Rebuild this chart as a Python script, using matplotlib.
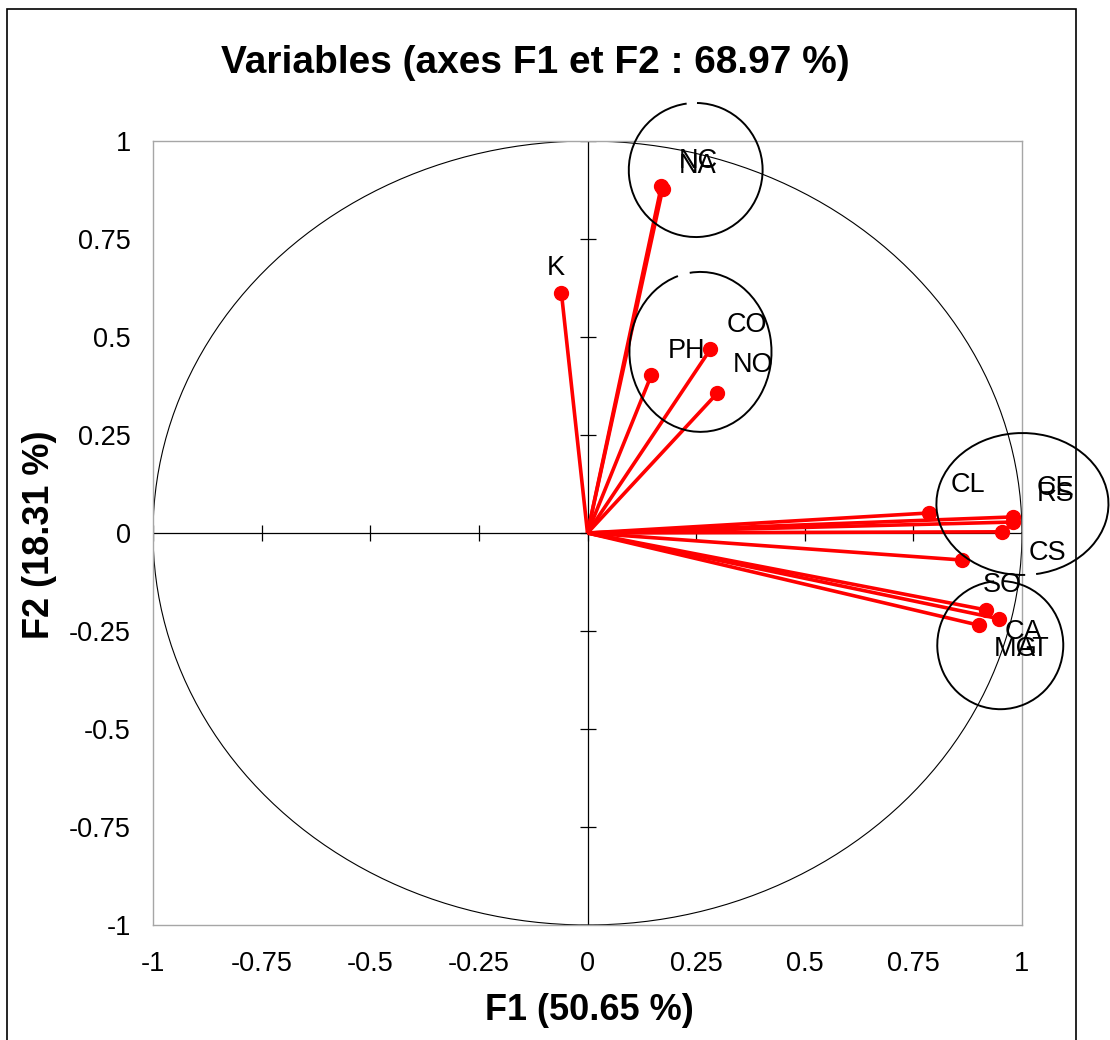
"""
Correlation circle (PCA variables plot, axes F1 and F2).
"""
import numpy as np
import matplotlib
matplotlib.use('Agg')
import matplotlib.pyplot as plt
from matplotlib.patches import Arc, Rectangle

plt.rcParams['font.family'] = ['Liberation Sans', 'DejaVu Sans']

# variables and their coordinates on F1 / F2
variables = ["NC", "NA", "K", "CO", "PH", "NO", "CL", "CE", "RS", "CS",
             "SO", "MG", "CA", "AT"]
f1 = [0.170, 0.173, -0.060, 0.283, 0.147, 0.299, 0.785, 0.980, 0.980, 0.955,
      0.863, 0.916, 0.948, 0.900]
f2 = [0.885, 0.878, 0.612, 0.469, 0.403, 0.357, 0.051, 0.041, 0.028, 0.003,
      -0.069, -0.196, -0.219, -0.235]

# where the labels were placed on the chart
label_x = [0.255, 0.253, -0.074, 0.366, 0.228, 0.382, 0.875, 1.077, 1.077, 1.059,
           0.955, 0.985, 1.003, 1.025]
label_y = [0.949, 0.936, 0.676, 0.531, 0.464, 0.429, 0.122, 0.115, 0.099, -0.051,
           -0.133, -0.296, -0.253, -0.296]

# hand-drawn groupings: centre x, centre y, width, height, gap start angle
groups_cx = [0.249, 0.260, 1.001, 0.950]
groups_cy = [0.926, 0.462, 0.074, -0.286]
groups_w = [0.308, 0.327, 0.396, 0.290]
groups_h = [0.342, 0.408, 0.362, 0.327]
groups_gap = [97, 105, 280, 95]

ticks = [-1, -0.75, -0.5, -0.25, 0, 0.25, 0.5, 0.75, 1]
tick_labels = ["-1", "-0.75", "-0.5", "-0.25", "0", "0.25", "0.5", "0.75", "1"]

title = "Variables (axes F1 et F2 : 68.97 %)"
xlabel = "F1 (50.65 %)"
ylabel = "F2 (18.31 %)"

fig = plt.figure(figsize=(11.1, 10.4), dpi=100)
ax = fig.add_axes([153 / 1110, 115 / 1040, 869 / 1110, 784 / 1040])

# unit circle
theta = np.linspace(0, 2 * np.pi, 400)
ax.plot(np.cos(theta), np.sin(theta), color='black', lw=0.8, zorder=1)

# axes through the origin with crossing ticks
ax.axhline(0, color='black', lw=0.9, zorder=1)
ax.axvline(0, color='black', lw=0.9, zorder=1)
ax.plot(ticks, [0] * len(ticks), ls='none', marker='|', ms=11, mew=0.9,
        color='black', zorder=1)
ax.plot([0] * len(ticks), ticks, ls='none', marker='_', ms=11, mew=0.9,
        color='black', zorder=1)

# variable vectors
for x, y in zip(f1, f2):
    ax.plot([0, x], [0, y], color='#ff0000', lw=2.6, solid_capstyle='butt', zorder=3)
ax.plot(f1, f2, ls='none', marker='o', ms=10, color='#ff0000', zorder=4)

for name, x, y in zip(variables, label_x, label_y):
    ax.text(x, y, name, fontsize=19.5, ha='center', va='center', color='black',
            zorder=5, clip_on=False)

# group ellipses
for cx, cy, w, h, g in zip(groups_cx, groups_cy, groups_w, groups_h, groups_gap):
    arc = Arc((cx, cy), w, h, theta1=g, theta2=g + 352, color='black', lw=1.4,
              zorder=6, clip_on=False)
    ax.add_patch(arc)

ax.set_xlim(-1, 1)
ax.set_ylim(-1, 1)
ax.set_xticks(ticks)
ax.set_xticklabels(tick_labels)
ax.set_yticks(ticks)
ax.set_yticklabels(tick_labels)
ax.tick_params(length=0, labelsize=19.5, pad=16)
ax.tick_params(axis='x', pad=19)
for sp in ax.spines.values():
    sp.set_color('#a6a6a6')
    sp.set_linewidth(1.0)

fig.text(535 / 1110, 1 - 63 / 1040, title, fontsize=28, fontweight='bold',
         ha='center', va='center')
fig.text(589 / 1110, 1 - 1011 / 1040, xlabel, fontsize=26, fontweight='bold',
         ha='center', va='center')
fig.text(40 / 1110, 1 - 535 / 1040, ylabel, fontsize=26, fontweight='bold',
         ha='center', va='center', rotation=90)

# outer chart frame
fig.patches.append(Rectangle((7 / 1110, -0.01), 1069 / 1110, 1 - 9 / 1040 + 0.01,
                             transform=fig.transFigure, fill=False,
                             edgecolor='black', lw=1.2))

fig.savefig('out.png', dpi=100, facecolor='white')
